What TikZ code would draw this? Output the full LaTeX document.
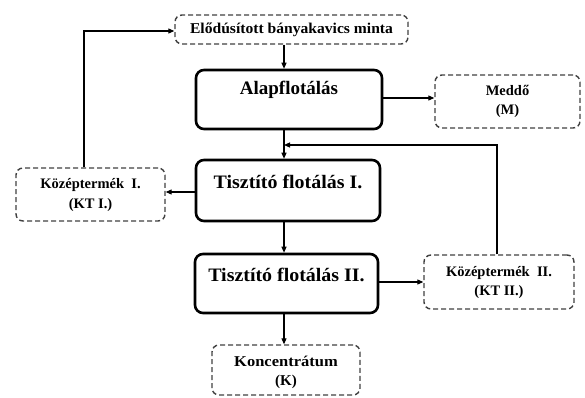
\documentclass[tikz,border=0pt]{standalone}
\usepackage{fontspec}
\setmainfont{Liberation Serif}
\usetikzlibrary{arrows.meta}
\begin{document}
\begin{tikzpicture}[x=1pt,y=-1pt,
  mainbox/.style={draw=black, line width=2.6pt, rounded corners=8pt, fill=white, inner sep=0pt},
  dbox/.style={draw=black!75, line width=1.4pt, dash pattern=on 5pt off 3pt, rounded corners=7pt, inner sep=0pt},
  bigtxt/.style={font=\fontsize{19}{20}\selectfont\bfseries, inner sep=0pt},
  smalltxt/.style={font=\fontsize{14.5}{19.5}\selectfont\bfseries, align=center, inner sep=0pt},
  arr/.style={draw=black, line width=1.1pt, -{Triangle[length=6pt,width=5pt]}}]
\useasboundingbox (0,0) rectangle (585,398);
% boxes
\node (top) [dbox, minimum width=233, minimum height=29] at (291.5,29.5) {};
\node (toptxt) [smalltxt, font=\fontsize{15}{19}\selectfont\bfseries] at (top.center) {\scalebox{1.04}[1]{Elődúsított bányakavics minta}};
\node (alap) [mainbox, minimum width=186, minimum height=59] at (289,99.5) {};
\node (alaptxt) [bigtxt] at (289,90) {Alapflotálás};
\node (meddo) [dbox, minimum width=145, minimum height=53] at (507.5,101.5) {};
\node (meddotxt) [smalltxt] at (507.5,101.5) {Meddő\\(M)};
\node (t1) [mainbox, minimum width=184, minimum height=61] at (288,190.5) {};
\node (t1txt) [bigtxt] at (288,182) {\scalebox{1.05}[1]{Tisztító flotálás I.}};
\node (kt1) [dbox, minimum width=149, minimum height=53] at (90.5,194.5) {};
\node (kt1txt) [smalltxt] at (90.5,195) {Középtermék~~I.\\(KT I.)};
\node (t2) [mainbox, minimum width=183, minimum height=59] at (286.5,283.5) {};
\node (t2txt) [bigtxt] at (286.5,275) {\scalebox{1.05}[1]{Tisztító flotálás II.}};
\node (kt2) [dbox, minimum width=150, minimum height=54] at (499,282) {};
\node (kt2txt) [smalltxt] at (499,282.5) {Középtermék~~II.\\(KT II.)};
\node (konc) [dbox, minimum width=148, minimum height=50] at (286,370) {};
\node (konctxt) [smalltxt, font=\fontsize{15}{19.5}\selectfont\bfseries] at (286,372.5) {\scalebox{1.1}[1]{Koncentrátum}\\(K)};
% helper coordinates
\coordinate (vx) at (284,0);
\coordinate (fb1) at (84,31);
\coordinate (fb2) at (497,145);
% main vertical flow
\draw[arr] (top.south -| vx) -- (alap.north -| vx);
\draw[arr] (alap.south -| vx) -- (t1.north -| vx);
\draw[arr] (t1.south -| vx) -- (t2.north -| vx);
\draw[arr] (t2.south -| vx) -- (konc.north -| vx);
% side outputs
\draw[arr] (alap.east |- 0,98) -- (meddo.west |- 0,98);
\draw[arr] (t1.west |- 0,192) -- (kt1.east |- 0,192);
\draw[arr] (t2.east |- 0,282) -- (kt2.west |- 0,282);
% feedback loops
\draw[arr] (kt1.north -| fb1) -- (fb1) -- (top.west |- fb1);
\draw[arr] (kt2.north -| fb2) -- (fb2) -- (vx |- fb2);
\end{tikzpicture}
\end{document}
